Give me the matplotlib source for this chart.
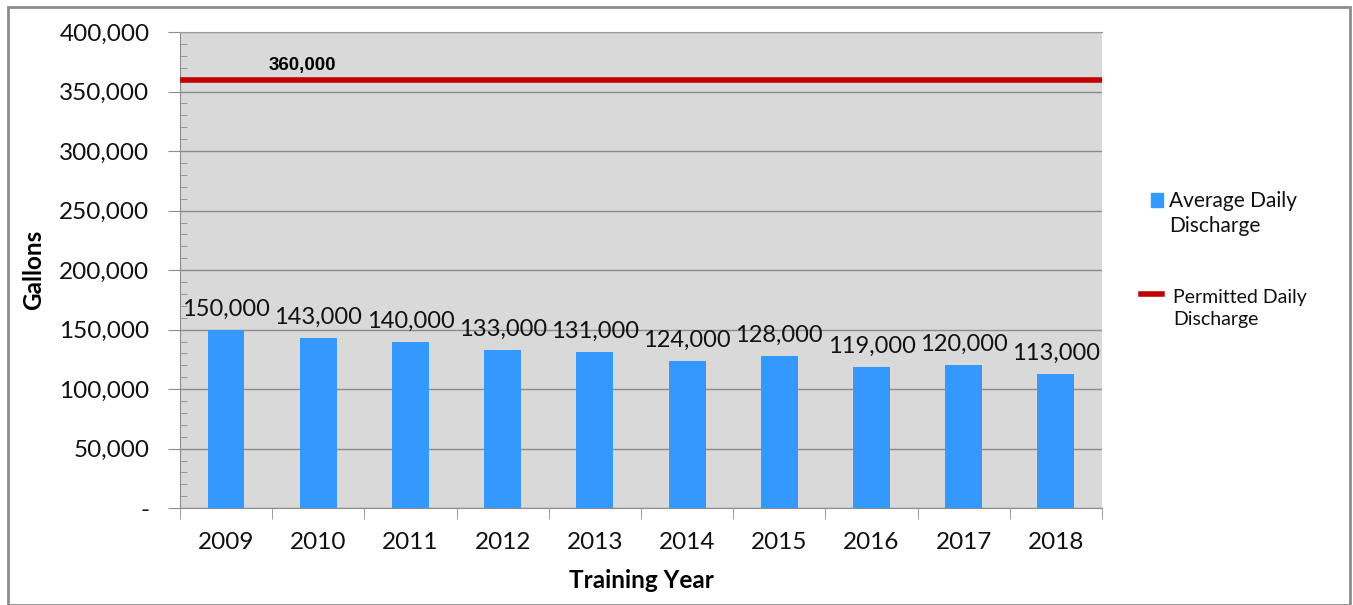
import matplotlib
matplotlib.use("Agg")
from matplotlib import pyplot as plt
from matplotlib.patches import Rectangle
from matplotlib.lines import Line2D
from matplotlib.ticker import MultipleLocator, FuncFormatter

years = ["2009", "2010", "2011", "2012", "2013", "2014", "2015", "2016", "2017", "2018"]
avg_discharge = [150000, 143000, 140000, 133000, 131000, 124000, 128000, 119000, 120000, 113000]
permitted = 360000

fig = plt.figure(figsize=(13.53, 6.05), dpi=100)
ax = fig.add_axes([0.133, 0.160, 0.6815, 0.787])
ax.set_facecolor('#d9d9d9')

x = list(range(len(years)))
ax.bar(x, avg_discharge, width=0.4, color='#3399ff', zorder=2)
ax.plot([-0.5, len(years) - 0.52], [permitted, permitted], color='#c00000', lw=4, zorder=3)

# etiquetas de datos
for xi, v in zip(x, avg_discharge):
    ax.text(xi, v + 8500, f"{v:,}", ha='center', va='bottom', fontsize=17,
            family='Lato', color='#111111', zorder=4)
ax.text(0.83, permitted + 12000, f"{permitted:,}", ha='center', va='center', fontsize=13.5,
        fontweight='bold', family='Liberation Sans', zorder=4)

ax.set_xlim(-0.5, len(years) - 0.5)
ax.set_ylim(0, 400000)
ax.yaxis.set_major_locator(MultipleLocator(50000))
ax.yaxis.set_minor_locator(MultipleLocator(10000))
ax.yaxis.set_major_formatter(FuncFormatter(lambda v, p: "-" if v == 0 else f"{int(v):,}"))
ax.grid(axis='y', which='major', color='#8c8c8c', lw=1, zorder=1)
ax.set_axisbelow(True)

ax.set_xticks(x)
ax.set_xticklabels(years)
ax.set_xticks([i - 0.5 for i in range(len(years) + 1)], minor=True)
ax.tick_params(axis='x', which='major', length=0, pad=17, labelsize=17.5)
ax.tick_params(axis='x', which='minor', length=8, color='#8c8c8c', direction='out')
ax.tick_params(axis='y', which='major', length=9, color='#8c8c8c', direction='out', labelsize=17.5, pad=13)
ax.tick_params(axis='y', which='minor', length=5, color='#8c8c8c', direction='in')
for lbl in ax.get_xticklabels() + ax.get_yticklabels():
    lbl.set_family('Lato')
    lbl.set_color('#111111')

for side in ['top', 'right']:
    ax.spines[side].set_visible(False)
ax.spines['left'].set_color('#8c8c8c')
ax.spines['bottom'].set_color('#8c8c8c')
ax.spines['top'].set_visible(True)
ax.spines['top'].set_color('#9a9a9a')

ax.set_ylabel("Gallons", fontsize=17.5, fontweight='bold', family='Lato', labelpad=10)
ax.set_xlabel("Training Year", fontsize=17.5, fontweight='bold', family='Lato', labelpad=12)

# leyenda manual
fig.patches.append(Rectangle((1151 / 1353, 1 - 207 / 605), 12 / 1353, 14 / 605,
                             transform=fig.transFigure, color='#3399ff'))
fig.text(1169 / 1353, 1 - 191 / 605, "Average Daily\nDischarge", fontsize=15, family='Lato',
         va='top', ha='left', linespacing=1.3, color='#111111')
fig.lines.append(Line2D([1141 / 1353, 1162 / 1353], [1 - 294 / 605, 1 - 294 / 605],
                        transform=fig.transFigure, color='#c00000', lw=4))
fig.text(1173 / 1353, 1 - 289 / 605, "Permitted Daily\nDischarge", fontsize=14, family='Lato',
         va='top', ha='left', linespacing=1.35, color='#111111')

# borde exterior
fig.patches.append(Rectangle((8 / 1353, 0), 1342 / 1353, 1 - 7 / 605, transform=fig.transFigure,
                             fill=False, ec='#8c8c8c', lw=2))

plt.savefig("out.png", dpi=100)
